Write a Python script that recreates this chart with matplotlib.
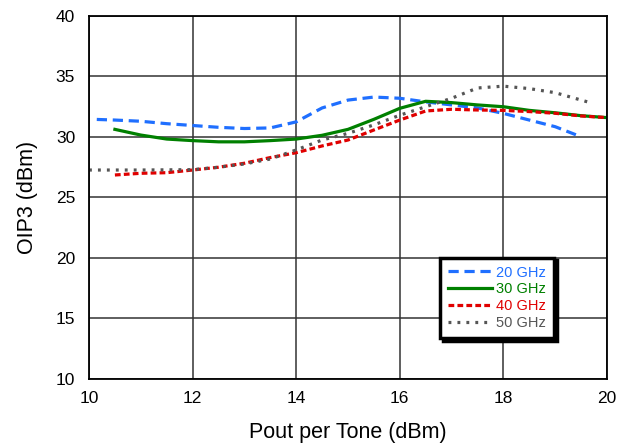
import matplotlib.pyplot as plt

plt.rcParams['font.family'] = ['Liberation Sans', 'DejaVu Sans']

# OIP3 vs output power per tone
pout_20 = [10.15, 10.5, 11, 11.5, 12, 12.5, 13, 13.5, 14, 14.5, 15, 15.5, 16, 16.5, 17, 17.5, 18, 18.5, 19, 19.45]
oip3_20 = [31.45, 31.4, 31.3, 31.1, 30.95, 30.8, 30.7, 30.75, 31.25, 32.4, 33.05, 33.3, 33.2, 32.9, 32.65, 32.4, 31.95, 31.4, 30.85, 30.1]

pout_30 = [10.5, 11, 11.5, 12, 12.5, 13, 13.5, 14, 14.5, 15, 15.5, 16, 16.5, 17, 17.5, 18, 18.5, 19, 19.5, 20]
oip3_30 = [30.63, 30.16, 29.83, 29.7, 29.6, 29.6, 29.7, 29.83, 30.14, 30.63, 31.46, 32.37, 32.95, 32.84, 32.65, 32.5, 32.2, 32.0, 31.76, 31.6]

pout_40 = [10.5, 11, 11.5, 12, 12.5, 13, 13.5, 14, 14.5, 15, 15.5, 16, 16.5, 17, 17.5, 18, 18.5, 19, 19.5, 20]
oip3_40 = [26.86, 27.0, 27.05, 27.27, 27.5, 27.83, 28.3, 28.7, 29.26, 29.75, 30.58, 31.4, 32.15, 32.29, 32.23, 32.2, 32.1, 31.96, 31.74, 31.6]

pout_50 = [10, 11, 12, 12.5, 13, 13.5, 14, 14.5, 15, 15.5, 16, 16.5, 17, 17.5, 18, 18.5, 19, 19.65]
oip3_50 = [27.27, 27.27, 27.3, 27.5, 27.77, 28.18, 28.93, 29.75, 30.3, 31.0, 31.8, 32.5, 33.2, 34.05, 34.2, 34.0, 33.66, 32.87]

labels = ['20 GHz', '30 GHz', '40 GHz', '50 GHz']
colors = ['#1f6fff', '#008000', '#e00000', '#555555']

fig = plt.figure(figsize=(6.29, 4.44), dpi=100)
ax = fig.add_axes([0.1415, 0.1464, 0.8235, 0.8176])

ax.plot(pout_20, oip3_20, color=colors[0], lw=2.3, dashes=(3.2, 1.8), label=labels[0])
ax.plot(pout_30, oip3_30, color=colors[1], lw=2.3, label=labels[1])
ax.plot(pout_40, oip3_40, color=colors[2], lw=2.3, dashes=(1.8, 1.0), label=labels[2])
ax.plot(pout_50, oip3_50, color=colors[3], lw=2.3, dashes=(0.9, 1.9), label=labels[3])

ax.set_xlim(10, 20)
ax.set_ylim(10, 40)
ax.set_xticks(range(10, 21, 2))
ax.set_yticks(range(10, 41, 5))
ax.grid(True, color='#333333', lw=1.1)
ax.tick_params(direction='in', length=0, labelsize=12.5)
ax.tick_params(axis='x', pad=9)
ax.tick_params(axis='y', pad=10)
for s in ax.spines.values():
    s.set_linewidth(1.3)

ax.set_xlabel('Pout per Tone (dBm)', fontsize=15.5, labelpad=11)
ax.set_ylabel('OIP3 (dBm)', fontsize=15.5, labelpad=13)

leg = ax.legend(loc='lower left', bbox_to_anchor=(0.678, 0.112), fontsize=10.5,
                frameon=True, fancybox=False, shadow={'color': 'black', 'alpha': 1},
                handlelength=3.0, handletextpad=0.3, borderpad=0.55,
                labelspacing=0.2, borderaxespad=0)
leg.get_frame().set_edgecolor('black')
leg.get_frame().set_linewidth(2.5)
leg.get_frame().set_facecolor('white')
leg.get_frame().set_alpha(1)
leg.set_zorder(5)
for txt, c in zip(leg.get_texts(), colors):
    txt.set_color(c)

fig.savefig('out.png', dpi=100)
